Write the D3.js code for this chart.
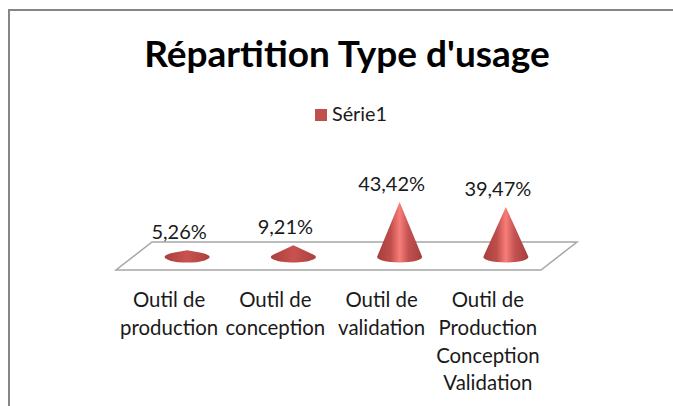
<!DOCTYPE html>
<html>
<head>
<meta charset="utf-8">
<script src="https://cdnjs.cloudflare.com/ajax/libs/d3/7.8.5/d3.min.js"></script>
<style>
    html, body { margin: 0; padding: 0; background: #fff; overflow: hidden; }
    text { font-family: Lato, "Open Sans", sans-serif; fill: #1a1a1a; }
</style>
</head>
<body>
<div id="chart"></div>
<script>
const categories = ["Outil de production", "Outil de conception", "Outil de validation", "Outil de Production Conception Validation"];
const categoryLines = [
    ["Outil de", "production"],
    ["Outil de", "conception"],
    ["Outil de", "validation"],
    ["Outil de", "Production", "Conception", "Validation"]
];
const values = [5.26, 9.21, 43.42, 39.47];
const valueLabels = ["5,26%", "9,21%", "43,42%", "39,47%"];
const seriesName = "Série1";
const title = "Répartition Type d'usage";

function init() {
    let w = 673;
    let h = 406;

    let svg = d3.select("#chart")
        .append("svg")
        .attr("width", w)
        .attr("height", h)
        .style("display", "block");

    let defs = svg.append("defs");

    // gradient across the tall cones, dark edges and a light band in the middle
    let grad = defs.append("linearGradient")
        .attr("id", "cone")
        .attr("x1", "0%").attr("x2", "100%")
        .attr("y1", "0%").attr("y2", "0%");
    grad.append("stop").attr("offset", "0%").attr("stop-color", "#a63f3c");
    grad.append("stop").attr("offset", "30%").attr("stop-color", "#bf4e4b");
    grad.append("stop").attr("offset", "50%").attr("stop-color", "#f77d7a");
    grad.append("stop").attr("offset", "70%").attr("stop-color", "#c25250");
    grad.append("stop").attr("offset", "100%").attr("stop-color", "#a33e3b");

    // the flat cones barely catch the highlight
    let gradLow = defs.append("linearGradient")
        .attr("id", "coneLow")
        .attr("x1", "0%").attr("x2", "100%")
        .attr("y1", "0%").attr("y2", "0%");
    gradLow.append("stop").attr("offset", "0%").attr("stop-color", "#a9403d");
    gradLow.append("stop").attr("offset", "50%").attr("stop-color", "#c9524f");
    gradLow.append("stop").attr("offset", "100%").attr("stop-color", "#ab413e");

    // chart frame, only top and left show in the crop
    svg.append("path")
        .attr("d", "M9,406V10H673")
        .attr("fill", "none")
        .attr("stroke", "#868686")
        .attr("stroke-width", 2);

    svg.append("text")
        .attr("x", 347)
        .attr("y", 67)
        .attr("text-anchor", "middle")
        .attr("font-size", 37)
        .attr("font-weight", 700)
        .style("fill", "#000")
        .text(title);

    // legend
    svg.append("rect")
        .attr("x", 315).attr("y", 109)
        .attr("width", 12).attr("height", 12)
        .attr("fill", "#c0504d");
    svg.append("text")
        .attr("x", 332).attr("y", 121)
        .attr("font-size", 19.8)
        .text(seriesName);

    // floor of the 3d plot
    let x = d3.scaleBand().domain(categories).range([116, 541]);
    let y = d3.scaleLinear().domain([0, 50]).range([257, 193.7]);
    let depth = 36;
    let floorY = [270, 242];

    let floor = d3.path();
    floor.moveTo(x.range()[0], floorY[0]);
    floor.lineTo(x.range()[1], floorY[0]);
    floor.lineTo(x.range()[1] + depth, floorY[1]);
    floor.lineTo(x.range()[0] + depth, floorY[1]);
    floor.closePath();
    svg.append("path")
        .attr("d", floor)
        .attr("fill", "#fff")
        .attr("stroke", "#a6a6a6")
        .attr("stroke-width", 1.5);

    let rx = 22.5;
    let ry = 5.5;

    // tangents from the tip to the base ellipse give the cone outline
    function conePath(cx, d) {
        let cy = y(0);
        let tip = y(d);
        let c = cy - tip;
        let ty = ry * ry / c;
        let tx = rx * Math.sqrt(1 - (ry * ry) / (c * c));
        return `M${cx},${tip}L${cx - tx},${cy - ty}A${rx},${ry} 0 1 0 ${cx + tx},${cy - ty}Z`;
    }

    let coneX = (d, i) => x(categories[i]) + x.bandwidth() / 2 + depth / 2;

    svg.selectAll(".cone")
        .data(values)
        .enter()
        .append("path")
        .attr("class", "cone")
        .attr("d", (d, i) => conePath(coneX(d, i), d))
        .attr("fill", d => d < 20 ? "url(#coneLow)" : "url(#cone)");

    // value labels
    svg.selectAll(".val")
        .data(values)
        .enter()
        .append("text")
        .attr("class", "val")
        .attr("x", (d, i) => coneX(d, i) - 8)
        .attr("y", d => y(d) - 11)
        .attr("text-anchor", "middle")
        .attr("font-size", 20)
        .text((d, i) => valueLabels[i]);

    // category labels
    let cat = svg.selectAll(".cat")
        .data(categories)
        .enter()
        .append("text")
        .attr("class", "cat")
        .attr("text-anchor", "middle")
        .attr("font-size", 20.4);

    cat.selectAll("tspan")
        .data((d, i) => categoryLines[i].map(t => ({ t: t, c: d })))
        .enter()
        .append("tspan")
        .attr("x", d => x(d.c) + x.bandwidth() / 2)
        .attr("y", (d, i) => 307 + i * 27.8)
        .text(d => d.t);
}

window.onload = init;
</script>
</body>
</html>
